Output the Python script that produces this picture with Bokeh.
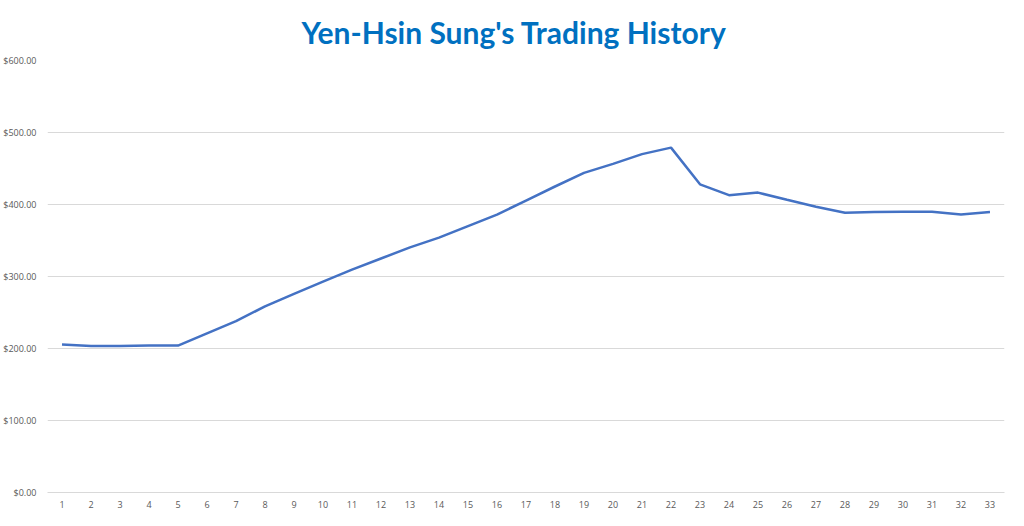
from bokeh.plotting import figure
from bokeh.models import Range1d, FixedTicker, NumeralTickFormatter
from bokeh.embed import file_html
from bokeh.resources import INLINE

days = list(range(1, 34))
balance = [205.5, 203.5, 203.5, 204, 204, 221, 238, 258.5, 276, 293, 309.5, 325, 340.5, 354,
           370, 386, 405.5, 425, 444, 456.5, 470, 479, 428, 413, 416.5, 406.5, 397,
           388.5, 389.5, 390, 390, 386, 389.5]
y_ticks = [0, 100, 200, 300, 400, 500, 600]
title_text = "Yen-Hsin Sung's Trading History"

p = figure(width=1008, height=510, output_backend="svg", toolbar_location=None,
           x_range=Range1d(0.5, 33.5), y_range=Range1d(0, 600),
           min_border_left=47, min_border_right=4, min_border_bottom=18, min_border_top=60)

p.title.text = title_text
p.title.align = "left"
p.title.text_font = "Lato"
p.title.text_font_style = "bold"
p.title.text_font_size = "30px"
p.title.text_color = "#0070c0"
p.title.standoff = 22
p.title.offset = 254

p.line(days, balance, line_color="#4472c4", line_width=2.5)

p.outline_line_color = None
p.background_fill_color = "white"
p.border_fill_color = "white"

p.xgrid.grid_line_color = None
p.ygrid.grid_line_color = "#d9d9d9"
p.ygrid.grid_line_width = 1
p.ygrid.ticker = FixedTicker(ticks=y_ticks)

p.xaxis.ticker = FixedTicker(ticks=days)
p.xaxis.axis_line_color = "#d9d9d9"
p.xaxis.major_tick_line_color = None
p.xaxis.minor_tick_line_color = None
p.xaxis.major_label_text_font = "Open Sans"
p.xaxis.major_label_text_font_size = "9px"
p.xaxis.major_label_text_color = "#595959"
p.xaxis.major_label_standoff = 2

p.yaxis.ticker = FixedTicker(ticks=y_ticks)
p.yaxis.formatter = NumeralTickFormatter(format="$0.00")
p.yaxis.axis_line_color = None
p.yaxis.major_tick_line_color = None
p.yaxis.minor_tick_line_color = None
p.yaxis.major_label_text_font = "Open Sans"
p.yaxis.major_label_text_font_size = "9px"
p.yaxis.major_label_text_color = "#595959"
p.yaxis.major_label_standoff = 5

open("out.html", "w").write(file_html(p, INLINE))
